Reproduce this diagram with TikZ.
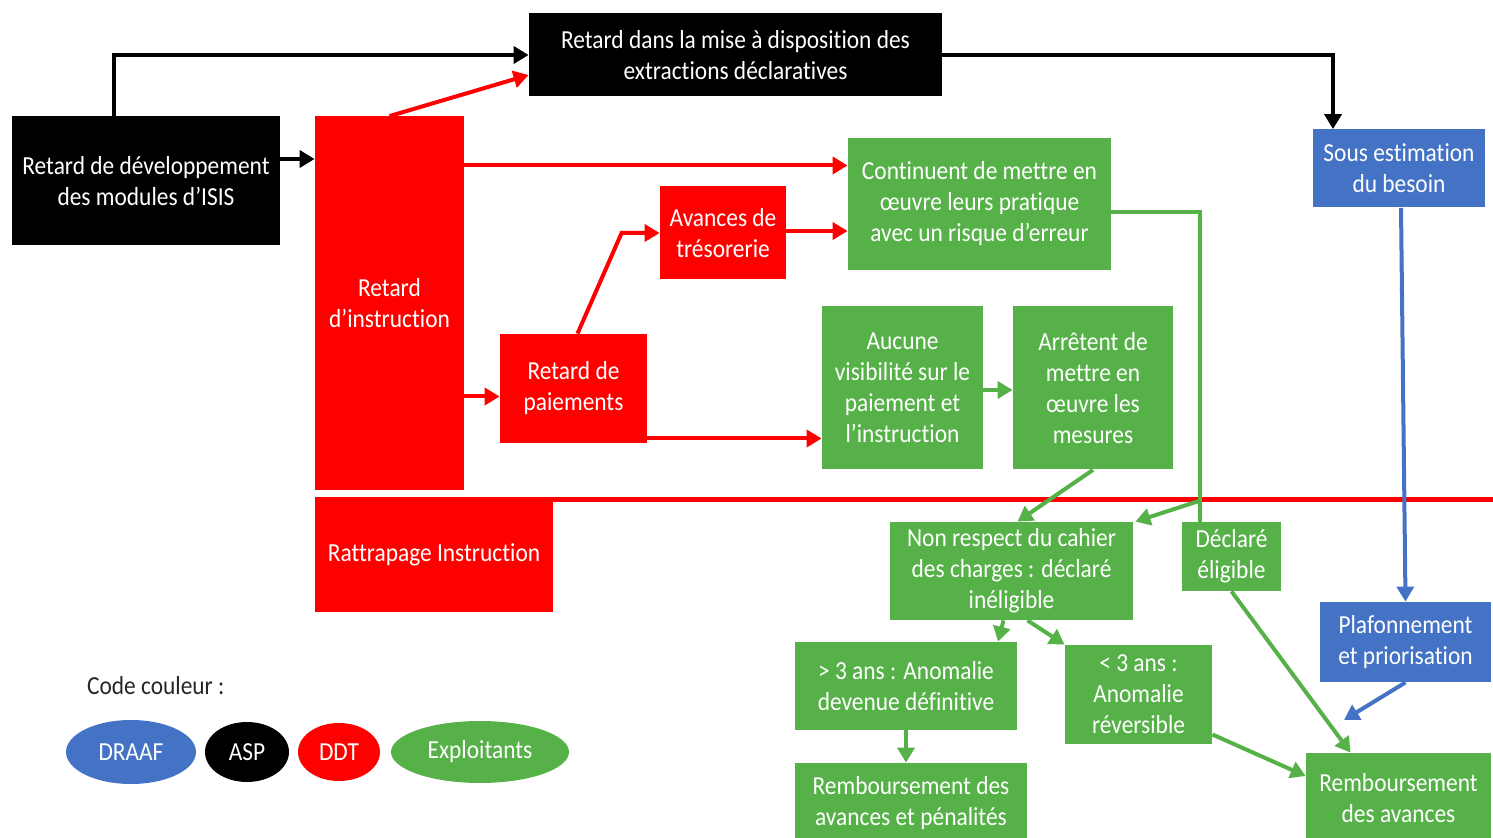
\documentclass[tikz,border=0pt]{standalone}
\usepackage{fontspec}
\setmainfont{Carlito}[FakeStretch=0.9,Ligatures=NoCommon]
\usepackage{tikz}
\usetikzlibrary{arrows.meta,shapes.geometric,calc}
\definecolor{ddtred}{HTML}{FF0000}
\definecolor{farmgreen}{HTML}{56B148}
\definecolor{draafblue}{HTML}{4472C4}
\definecolor{legendink}{HTML}{262626}

\begin{document}
\begin{tikzpicture}[x=0.5pt,y=-0.5pt,font=\fontsize{13}{15.5}\selectfont,
  box/.style={rectangle,inner sep=0pt,align=center,text=white},
  asp/.style={box,fill=black},
  ddt/.style={box,fill=ddtred},
  expl/.style={box,fill=farmgreen},
  draaf/.style={box,fill=draafblue},
  blob/.style={ellipse,inner sep=0pt,text=white},
  link/.style={line width=2pt,-{Triangle[length=7.5pt,width=8.5pt]}},
  sepline/.style={draw=ddtred,line width=2.5pt}]
  \useasboundingbox (0,0) rectangle (1493,838);
  % top row
  \node[asp,minimum width=206.5pt,minimum height=41.5pt] (ext) at (735.5,55) {Retard dans la mise à disposition des\\extractions déclaratives};
  \node[asp,minimum width=134pt,minimum height=64.5pt] (isis) at (146,181) {Retard de développement\\des modules d’ISIS};
  \node[ddt,minimum width=74.5pt,minimum height=187pt] (instr) at (389.5,303.5) {Retard\\d’instruction};
  \node[ddt,minimum width=63pt,minimum height=46.5pt] (avance) at (723,233) {Avances de\\trésorerie};
  \node[expl,minimum width=131.5pt,minimum height=66pt] (cont) at (979.5,204) {Continuent de mettre en\\œuvre leurs pratique\\avec un risque d’erreur};
  \node[draaf,minimum width=86pt,minimum height=39pt] (sous) at (1399,168.5) {Sous estimation\\du besoin};
  \node[ddt,minimum width=73.5pt,minimum height=54.5pt] (paie) at (573.5,388.5) {Retard de\\paiements};
  \node[expl,minimum width=80.5pt,minimum height=81.5pt] (aucune) at (902.5,388) {Aucune\\visibilité sur le\\paiement et\\l’instruction};
  \node[expl,minimum width=80pt,minimum height=81.5pt] (arret) at (1093,388) {Arrêtent de\\mettre en\\œuvre les\\mesures};
  % below the line
  \node[ddt,minimum width=119pt,minimum height=57pt] (rattr) at (434,555) {Rattrapage Instruction};
  \node[expl,minimum width=121.5pt,minimum height=49pt] (nonresp) at (1011.5,571) {Non respect du cahier\\des charges : déclaré\\inéligible};
  \node[expl,minimum width=49.5pt,minimum height=34.5pt] (decl) at (1231.5,556.5) {Déclaré\\éligible};
  \node[draaf,minimum width=85.5pt,minimum height=40pt] (plaf) at (1405.5,642) {Plafonnement\\et priorisation};
  \node[expl,minimum width=111pt,minimum height=44pt] (plus3) at (906,686) {> 3 ans : Anomalie\\devenue définitive};
  \node[expl,minimum width=73.5pt,minimum height=49.5pt] (moins3) at (1138.5,694.5) {< 3 ans :\\Anomalie\\réversible};
  \node[expl,minimum width=116pt,minimum height=40pt] (rembpen) at (911,803) {Remboursement des\\avances et pénalités};
  \node[expl,minimum width=92.5pt,minimum height=45pt] (rembav) at (1398.5,798) {Remboursement\\des avances};
  \coordinate (sepend) at (1493,499);
  \coordinate (brk) at (1199,501);
  \coordinate (plafend) at (1344,720);
  \draw[sepline] ([yshift=-1pt]rattr.north west) -- ([yshift=-1pt]rattr.north west -| sepend);
  % links
  \draw[link] ([xshift=-16pt]isis.north) |- (ext.west);
  \draw[link] ([yshift=11pt]isis.east) -- ([yshift=11pt]isis.east -| instr.west);
  \draw[link] (ext.east) -| ([xshift=-33pt]sous.north);
  \draw[link,ddtred] (instr.north) -- ([yshift=-10pt]ext.west);
  \draw[link,ddtred] ([yshift=69pt]instr.east) -- ([yshift=69pt]instr.east -| cont.west);
  \draw[link,ddtred] ([xshift=2pt]paie.north) -- ([xshift=-19pt]avance.west) -- (avance.west);
  \draw[link,ddtred] ([yshift=1pt]avance.east) -- ([yshift=1pt]avance.east -| cont.west);
  \draw[link,ddtred] ([yshift=-4pt]paie.west -| instr.east) -- ([yshift=-4pt]paie.west);
  \draw[link,ddtred] ([yshift=-25pt]paie.east) -- ([yshift=-25pt]paie.east -| aucune.west);
  \draw[link,farmgreen] ([yshift=-1pt]aucune.east) -- ([yshift=-1pt]arret.west);
  \draw[link,farmgreen] (arret.south) -- ([xshift=3pt]nonresp.north);
  \draw[line width=2pt,farmgreen] ([yshift=-4pt]cont.east) -| ([xshift=-16pt]decl.north);
  \draw[link,farmgreen] (brk) -- ([xshift=1pt]nonresp.north east);
  \draw[link,farmgreen] ([xshift=-4pt]nonresp.south) -- ([xshift=46pt]plus3.north);
  \draw[link,farmgreen] ([xshift=8pt]nonresp.south) -- (moins3.north west);
  \draw[link,farmgreen] (plus3.south) -- (plus3.south |- rembpen.north);
  \draw[link,farmgreen] ([yshift=-20pt]moins3.east) -- ([yshift=11pt]rembav.west);
  \draw[link,farmgreen] (decl.south) -- ([xshift=-24pt]rembav.north);
  \draw[link,draafblue] ([xshift=1pt]sous.south) -- (plaf.north);
  \draw[link,draafblue] (plaf.south) -- (plafend);
  % legend
  \node[anchor=west,text=legendink] (code) at (80,686) {Code couleur :};
  \node[blob,fill=draafblue,minimum width=65pt,minimum height=32pt] (kdraaf) at (131,752) {DRAAF};
  \node[blob,fill=black,minimum width=42pt,minimum height=30pt] (kasp) at (247,752) {ASP};
  \node[blob,fill=ddtred,minimum width=41pt,minimum height=29pt] (kddt) at (339,752) {DDT};
  \node[blob,fill=farmgreen,minimum width=89pt,minimum height=31pt] (kexpl) at (480,752) {Exploitants};
\end{tikzpicture}
\end{document}
